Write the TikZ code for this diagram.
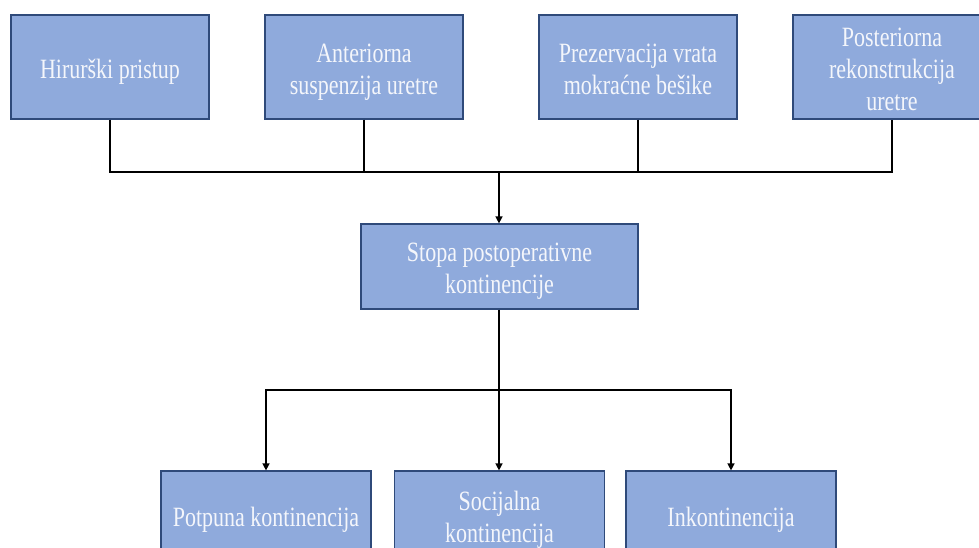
\documentclass[tikz,border=0pt]{standalone}
\usepackage{fontspec}
\setmainfont{Liberation Serif}
\usetikzlibrary{arrows.meta}

\definecolor{boxfill}{HTML}{8FAADC}
\definecolor{boxline}{HTML}{2F4A7A}
\definecolor{boxtext}{HTML}{F4F6FB}

% box text is set a little taller than wide
\newcommand{\tallrows}[1]{\scalebox{1}[1.27]{\begin{tabular}{@{}c@{}}#1\end{tabular}}}

\tikzset{
  stepbox/.style={draw=boxline, line width=1.2pt, fill=boxfill, inner sep=0pt},
  topbox/.style={stepbox, minimum width=198pt, minimum height=104pt},
  midbox/.style={stepbox, minimum width=277pt, minimum height=85pt},
  lowbox/.style={stepbox, minimum width=210pt, minimum height=88pt},
  caption/.style={text=boxtext, inner sep=0pt, font=\fontsize{22}{25}\selectfont},
  link/.style={line width=1.4pt, draw=black},
  arr/.style={link, -{Triangle[width=7pt,length=7pt]}}
}

\begin{document}
\begin{tikzpicture}[x=1pt, y=-1pt]
  \fill[white] (0,0) rectangle (979,548);
  \useasboundingbox (0,0) rectangle (979,548);
  \clip (0,0) rectangle (979,548);

  % factors
  \node[topbox] (hir)  at (110,67) {};
  \node[topbox] (ant)  at (364,67) {};
  \node[topbox] (prez) at (638,67) {};
  \node[topbox] (post) at (892,67) {};

  % outcome
  \node[midbox] (stopa) at (499.5,266.5) {};

  % categories
  \node[lowbox] (potp) at (266,515)   {};
  \node[lowbox] (soc)  at (499.5,515) {};
  \node[lowbox] (ink)  at (731,515)   {};

  % box captions, set slightly below each box centre
  \node[caption] (hirT)   at ([yshift=-5pt]hir.center)   {\tallrows{Hirurški pristup}};
  \node[caption] (antT)   at ([yshift=-5pt]ant.center)   {\tallrows{Anteriorna\\suspenzija uretre}};
  \node[caption] (prezT)  at ([yshift=-5pt]prez.center)  {\tallrows{Prezervacija vrata\\mokraćne bešike}};
  \node[caption] (postT)  at ([yshift=-5pt]post.center)  {\tallrows{Posteriorna\\rekonstrukcija\\uretre}};
  \node[caption] (stopaT) at ([yshift=-5pt]stopa.center) {\tallrows{Stopa postoperativne\\kontinencije}};
  \node[caption] (potpT)  at ([yshift=-5pt]potp.center)  {\tallrows{Potpuna kontinencija}};
  \node[caption] (socT)   at ([yshift=-5pt]soc.center)   {\tallrows{Socijalna\\kontinencija}};
  \node[caption] (inkT)   at ([yshift=-5pt]ink.center)   {\tallrows{Inkontinencija}};

  % collector line under the factors
  \coordinate (busL) at (110,172);
  \coordinate (busR) at (892,172);
  \coordinate (busM) at (499,172);
  \draw[link] (hir.south) -- (busL) -- (busR) -- (post.south);
  \draw[link] (ant.south) -- (ant.south |- busL);
  \draw[link] (prez.south) -- (prez.south |- busL);
  \draw[arr] (busM) -- (busM |- stopa.north);

  % distribution line to the categories
  \coordinate (splitM) at (499,390);
  \draw[link] (splitM |- stopa.south) -- (splitM);
  \draw[arr] (splitM) -| (potp.north);
  \draw[arr] (splitM) -- (splitM |- soc.north);
  \draw[arr] (splitM) -| (ink.north);
\end{tikzpicture}
\end{document}
